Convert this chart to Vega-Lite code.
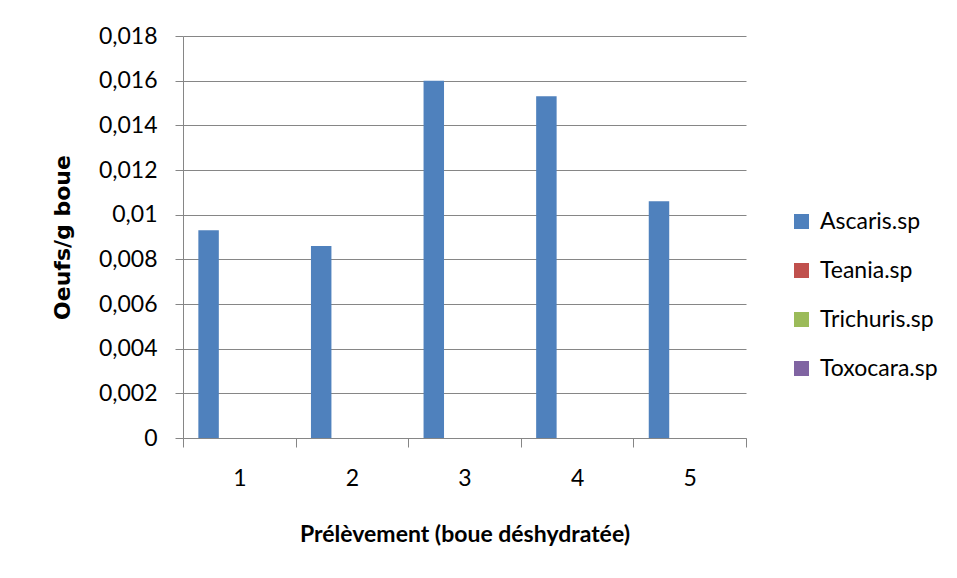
{
  "$schema": "https://vega.github.io/schema/vega-lite/v6.json",
  "autosize": "none",
  "width": 563,
  "height": 402,
  "padding": {"left": 183, "top": 36, "right": 211, "bottom": 140},
  "background": "white",
  "config": {
    "locale": {"number": {"decimal": ",", "thousands": " ", "grouping": [3], "currency": ["", " €"]}},
    "view": {"stroke": null},
    "font": "Lato"
  },
  "data": {
    "values": [
      {"prelevement": "1", "espece": "Ascaris.sp", "valeur": 0.0093},
      {"prelevement": "1", "espece": "Teania.sp", "valeur": 0},
      {"prelevement": "1", "espece": "Trichuris.sp", "valeur": 0},
      {"prelevement": "1", "espece": "Toxocara.sp", "valeur": 0},
      {"prelevement": "2", "espece": "Ascaris.sp", "valeur": 0.0086},
      {"prelevement": "2", "espece": "Teania.sp", "valeur": 0},
      {"prelevement": "2", "espece": "Trichuris.sp", "valeur": 0},
      {"prelevement": "2", "espece": "Toxocara.sp", "valeur": 0},
      {"prelevement": "3", "espece": "Ascaris.sp", "valeur": 0.016},
      {"prelevement": "3", "espece": "Teania.sp", "valeur": 0},
      {"prelevement": "3", "espece": "Trichuris.sp", "valeur": 0},
      {"prelevement": "3", "espece": "Toxocara.sp", "valeur": 0},
      {"prelevement": "4", "espece": "Ascaris.sp", "valeur": 0.0153},
      {"prelevement": "4", "espece": "Teania.sp", "valeur": 0},
      {"prelevement": "4", "espece": "Trichuris.sp", "valeur": 0},
      {"prelevement": "4", "espece": "Toxocara.sp", "valeur": 0},
      {"prelevement": "5", "espece": "Ascaris.sp", "valeur": 0.0106},
      {"prelevement": "5", "espece": "Teania.sp", "valeur": 0},
      {"prelevement": "5", "espece": "Trichuris.sp", "valeur": 0},
      {"prelevement": "5", "espece": "Toxocara.sp", "valeur": 0}
    ]
  },
  "mark": {"type": "bar"},
  "encoding": {
    "x": {
      "field": "prelevement",
      "type": "nominal",
      "sort": ["1", "2", "3", "4", "5"],
      "scale": {"paddingInner": 0, "paddingOuter": 0},
      "axis": {
        "title": "Prélèvement (boue déshydratée)",
        "labelAngle": 0,
        "tickBand": "extent",
        "tickSize": 9,
        "tickColor": "#868686",
        "domainColor": "#868686",
        "labelFont": "Lato",
        "labelFontSize": 23,
        "labelColor": "#000000",
        "labelPadding": 20,
        "titleFont": "Lato",
        "titleFontSize": 23,
        "titleFontWeight": "bold",
        "titleColor": "#000000",
        "titleBaseline": "alphabetic",
        "titleY": 103,
        "grid": false
      }
    },
    "xOffset": {
      "field": "espece",
      "type": "nominal",
      "sort": ["Ascaris.sp", "Teania.sp", "Trichuris.sp", "Toxocara.sp"],
      "scale": {"paddingInner": 0, "paddingOuter": 0.75}
    },
    "y": {
      "field": "valeur",
      "type": "quantitative",
      "scale": {"domain": [0, 0.018], "nice": false},
      "axis": {
        "title": "Oeufs/g boue",
        "values": [0, 0.002, 0.004, 0.006, 0.008, 0.01, 0.012, 0.014, 0.016, 0.018],
        "format": ".3~f",
        "grid": true,
        "gridColor": "#868686",
        "gridOpacity": 1,
        "tickSize": 8,
        "tickColor": "#868686",
        "domainColor": "#868686",
        "labelFont": "Lato",
        "labelFontSize": 23,
        "labelColor": "#000000",
        "labelPadding": 18,
        "titleFont": "DejaVu Sans",
        "titleFontSize": 22,
        "titleFontWeight": "bold",
        "titleColor": "#000000",
        "titleAngle": -90,
        "titleX": -121,
        "titleY": 201,
        "titleAlign": "center",
        "titleBaseline": "middle"
      }
    },
    "color": {
      "field": "espece",
      "type": "nominal",
      "sort": ["Ascaris.sp", "Teania.sp", "Trichuris.sp", "Toxocara.sp"],
      "scale": {
        "domain": ["Ascaris.sp", "Teania.sp", "Trichuris.sp", "Toxocara.sp"],
        "range": ["#4F81BD", "#C0504D", "#9BBB59", "#8064A2"]
      },
      "legend": {
        "title": null,
        "orient": "none",
        "legendX": 607,
        "legendY": 174,
        "padding": 0,
        "symbolType": "square",
        "symbolSize": 225,
        "symbolStrokeWidth": 0,
        "symbolOpacity": 1,
        "labelFont": "Lato",
        "labelFontSize": 23,
        "labelColor": "#000000",
        "labelOffset": 7,
        "rowPadding": 25
      }
    }
  }
}
